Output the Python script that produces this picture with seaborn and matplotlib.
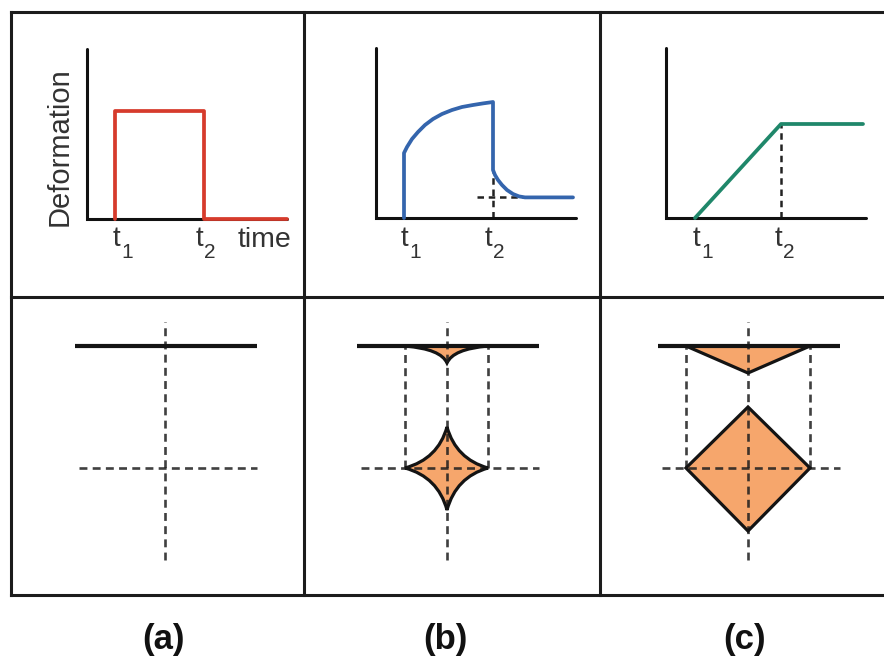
import matplotlib
matplotlib.use("Agg")
import matplotlib.pyplot as plt
import numpy as np
import pandas as pd
import seaborn as sns
from matplotlib.path import Path
from matplotlib.patches import PathPatch, Polygon

# ---- deformation histories (time in arbitrary units, t1/t2 marked) ----
t_marks = {"a": (1.4, 5.85), "b": (1.4, 5.85), "c": (1.45, 5.75)}

time_a = [1.4, 1.4, 5.85, 5.85, 10.0]
deform_a = [0.0, 5.4, 5.4, 0.0, 0.0]

time_b = [1.4, 1.4, 1.55, 1.8, 2.1, 2.45, 2.85, 3.3, 3.8, 4.3, 4.85, 5.35, 5.85,
          5.85, 5.95, 6.1, 6.3, 6.55, 6.85, 7.15, 7.45, 9.85]
deform_b = [0.0, 3.25, 3.55, 3.95, 4.3, 4.65, 4.95, 5.2, 5.4, 5.55, 5.65, 5.73, 5.8,
            2.4, 2.15, 1.9, 1.65, 1.4, 1.2, 1.08, 1.03, 1.03]
residual_b = 1.03

time_c = [1.45, 5.75, 9.85]
deform_c = [0.0, 4.7, 4.7]

# ---- cross-section shapes (surface at y = surface_y, centre at origin) ----
surface_y = 6.1
surface_x = (-4.5, 4.6)
b_cusp = [(-2.1, 6.1), (-0.3, 5.95), (0.0, 5.25), (0.3, 5.95), (2.05, 6.1)]
b_star = [(-2.1, 0.0), (-0.45, 0.45), (0.0, 2.05), (0.45, 0.45), (2.05, 0.0),
          (0.45, -0.45), (0.0, -2.1), (-0.45, -0.45), (-2.1, 0.0)]
c_wedge = [(-3.1, 6.1), (0.0, 4.75), (3.1, 6.1)]
c_diamond = [(-3.1, 0.0), (0.0, 3.05), (3.1, 0.0), (0.0, -3.15)]
panel_labels = ["(a)", "(b)", "(c)"]

sns.set_theme(style="white")
plt.rcParams["font.family"] = ["Liberation Sans", "DejaVu Sans"]

W, H = 884, 664
fig = plt.figure(figsize=(W / 100, H / 100), dpi=100)

bg = fig.add_axes([0, 0, 1, 1])
bg.set_xlim(0, W)
bg.set_ylim(H, 0)
bg.axis("off")


def px_axes(x0, y0, x1, y1):
    ax = fig.add_axes([x0 / W, 1 - y1 / H, (x1 - x0) / W, (y1 - y0) / H])
    ax.patch.set_alpha(0)
    ax.axis("off")
    return ax


def unit_axes(ox, oy, xlim, ylim, s=20.0):
    ax = px_axes(ox + xlim[0] * s, oy - ylim[1] * s, ox + xlim[1] * s, oy - ylim[0] * s)
    ax.set_xlim(*xlim)
    ax.set_ylim(*ylim)
    return ax


# grid frame
grid_kw = dict(color="#1c1c1c", lw=2.2, solid_capstyle="projecting", zorder=1)
for y in (12, 297, 595):
    bg.plot([11, W + 5], [y, y], **grid_kw)
for x in (11, 304, 600):
    bg.plot([x, x], [12, 595], **grid_kw)

# ---- top row: deformation vs time ----
AX_COLOR = "#111111"
tops = [
    ("a", 87, 219, time_a, deform_a, "#d63b2c"),
    ("b", 376, 218, time_b, deform_b, "#3465ad"),
    ("c", 666, 218, time_c, deform_c, "#1f876a"),
]
dash_kw = dict(color="#222222", lw=1.8, dashes=(2.6, 1.9), zorder=2)
for key, ox, oy, tt, dd, col in tops:
    ax = unit_axes(ox, oy, (-1.0, 11.0), (-1.0, 9.0))
    ax.plot([0, 0, 10.0], [8.5, 0, 0], color=AX_COLOR, lw=2.2, zorder=3,
            solid_joinstyle="miter")
    df = pd.DataFrame({"time": tt, "deformation": dd})
    sns.lineplot(data=df, x="time", y="deformation", sort=False, estimator=None,
                 color=col, lw=2.7, ax=ax, zorder=4)
    ax.set_xlim(-1.0, 11.0)
    ax.set_ylim(-1.0, 9.0)
    ax.axis("off")
    t1, t2 = t_marks[key]
    if key == "b":
        ax.plot([t2, t2], [0, 2.3], **dash_kw)
        ax.plot([5.05, 7.35], [residual_b, residual_b], **dash_kw)
    if key == "c":
        ax.plot([t2, t2], [0, deform_c[1]], **dash_kw)

# time labels (t with subscript)
TXT = "#333333"
t_label_x = [(116, 199), (404, 488), (696, 778)]
for (xa, xb) in t_label_x:
    for xc, sub in ((xa, "1"), (xb, "2")):
        bg.text(xc, 239, "t", fontsize=20, color=TXT, ha="center", va="center")
        bg.text(xc + 11, 253, sub, fontsize=15, color=TXT, ha="center", va="center")

bg.text(238, 240, "time", fontsize=20.5, color=TXT, ha="left", va="center")
bg.text(60, 147, "Deformation", fontsize=21, color=TXT, rotation=90,
        ha="center", va="center")

# ---- bottom row: cross sections ----
FILL = "#f6a66c"
EDGE = "#141414"
gdash = dict(color="#1e1e1e", lw=1.9, dashes=(3.0, 2.0), zorder=3, alpha=0.85)
centres = [165, 447, 748]
for i, cx in enumerate(centres):
    ax = unit_axes(cx, 468, (-6.0, 6.0), (-6.0, 8.0))
    ax.plot([0, 0], [-4.6, 7.3], **gdash)
    ax.plot([-4.3, 4.6], [0, 0], **gdash)
    ax.plot(list(surface_x), [surface_y, surface_y], color=EDGE, lw=3.0,
            zorder=5, solid_capstyle="butt")
    if i == 1:
        xl, xr = b_cusp[0][0], b_cusp[-1][0]
        for xs in (xl, xr):
            ax.plot([xs, xs], [0, surface_y], **gdash)
        cusp = Path(b_cusp + [b_cusp[0]],
                    [Path.MOVETO, Path.CURVE3, Path.CURVE3, Path.CURVE3, Path.CURVE3,
                     Path.LINETO])
        ax.add_patch(PathPatch(cusp, facecolor=FILL, edgecolor=EDGE, lw=2.3, zorder=2))
        star = Path(b_star, [Path.MOVETO] + [Path.CURVE3] * 8)
        ax.add_patch(PathPatch(star, facecolor=FILL, edgecolor="none", zorder=2))
        ax.add_patch(PathPatch(star, facecolor="none", edgecolor=EDGE, lw=2.3, zorder=4))
    if i == 2:
        for xs in (c_wedge[0][0], c_wedge[-1][0]):
            ax.plot([xs, xs], [0, surface_y], **gdash)
        ax.add_patch(Polygon(c_wedge, closed=True, facecolor=FILL, edgecolor="none", zorder=2))
        ax.add_patch(Polygon(c_wedge, closed=True, facecolor="none", edgecolor=EDGE,
                             lw=2.3, zorder=4, joinstyle="miter"))
        ax.add_patch(Polygon(c_diamond, closed=True, facecolor=FILL, edgecolor="none", zorder=2))
        ax.add_patch(Polygon(c_diamond, closed=True, facecolor="none", edgecolor=EDGE,
                             lw=2.3, zorder=4, joinstyle="miter"))

# panel captions
for lab, xc in zip(panel_labels, (164, 445, 745)):
    bg.text(xc, 640, lab, fontsize=25, fontweight="bold", color="#111111",
            ha="center", va="center")

fig.savefig("out.png", dpi=100)
